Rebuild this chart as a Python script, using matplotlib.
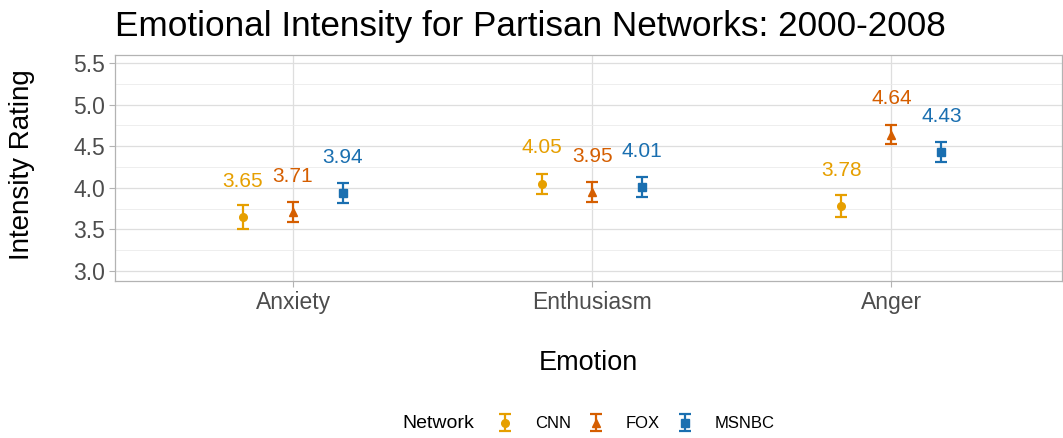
import matplotlib
matplotlib.use("Agg")
import matplotlib.pyplot as plt
import numpy as np

plt.rcParams['font.family'] = ['Liberation Sans', 'DejaVu Sans']

emotions = ["Anxiety", "Enthusiasm", "Anger"]
networks = ["CNN", "FOX", "MSNBC"]
means = {
    "CNN":   [3.65, 4.05, 3.78],
    "FOX":   [3.71, 3.95, 4.64],
    "MSNBC": [3.94, 4.01, 4.43],
}
errs = {
    "CNN":   [0.14, 0.12, 0.13],
    "FOX":   [0.12, 0.12, 0.115],
    "MSNBC": [0.12, 0.12, 0.12],
}
colors = {"CNN": "#E69F00", "FOX": "#D55E00", "MSNBC": "#1A6FB0"}
markers = {"CNN": "o", "FOX": "^", "MSNBC": "s"}
offsets = {"CNN": -0.167, "FOX": 0.0, "MSNBC": 0.167}

W, H = 1063, 438
fig = plt.figure(figsize=(W/100, H/100), dpi=100)
ax = fig.add_axes([115/W, 1-281/H, (1062-115)/W, (281-55)/H])

x = np.arange(1, len(emotions)+1)
handles = []
for n in networks:
    xs = x + offsets[n]
    h = ax.errorbar(xs, means[n], yerr=errs[n], fmt=markers[n], color=colors[n],
                    ms=5.5, capsize=4.5, elinewidth=1.6, capthick=1.6, label=n, zorder=3)
    handles.append(h)
    for xi, m in zip(xs, means[n]):
        ax.text(xi, m + 0.43, f"{m:.2f}", color=colors[n], fontsize=15,
                ha="center", va="center")

ax.set_xlim(0.405, 3.57)
ax.set_ylim(2.88, 5.596)
ax.set_xticks(x)
ax.set_xticklabels(emotions)
ax.set_yticks([3.0, 3.5, 4.0, 4.5, 5.0, 5.5])
ax.set_yticks([3.25, 3.75, 4.25, 4.75, 5.25], minor=True)
ax.tick_params(axis="both", which="major", labelsize=16.5, labelcolor="#4D4D4D",
               color="#B3B3B3", length=4, width=0.8, pad=3)
ax.tick_params(axis="y", which="minor", length=0)
ax.grid(True, which="major", color="#DEDEDE", linewidth=0.9)
ax.grid(True, which="minor", axis="y", color="#EBEBEB", linewidth=0.6)
ax.set_axisbelow(True)
for s in ax.spines.values():
    s.set_color("#B3B3B3")
    s.set_linewidth(0.9)

ax.set_xlabel("Emotion", fontsize=19.5, labelpad=26)
fig.text(22/W, 1-165/H, "Intensity Rating", fontsize=20, rotation=90,
         ha="center", va="center")
fig.text(115/W, 1-36/H, "Emotional Intensity for Partisan Networks: 2000-2008",
         fontsize=25.3, ha="left", va="baseline")

fig.text(402/W, 1-424/H, "Network", fontsize=14, ha="left", va="center")
leg = fig.legend(handles=handles, labels=networks, loc="center left",
                 bbox_to_anchor=(480/W, 1-424/H), ncol=3, frameon=False,
                 fontsize=12, handlelength=1.2, handletextpad=1.2, columnspacing=0.9)

fig.savefig("out.png", dpi=100, facecolor="white")
